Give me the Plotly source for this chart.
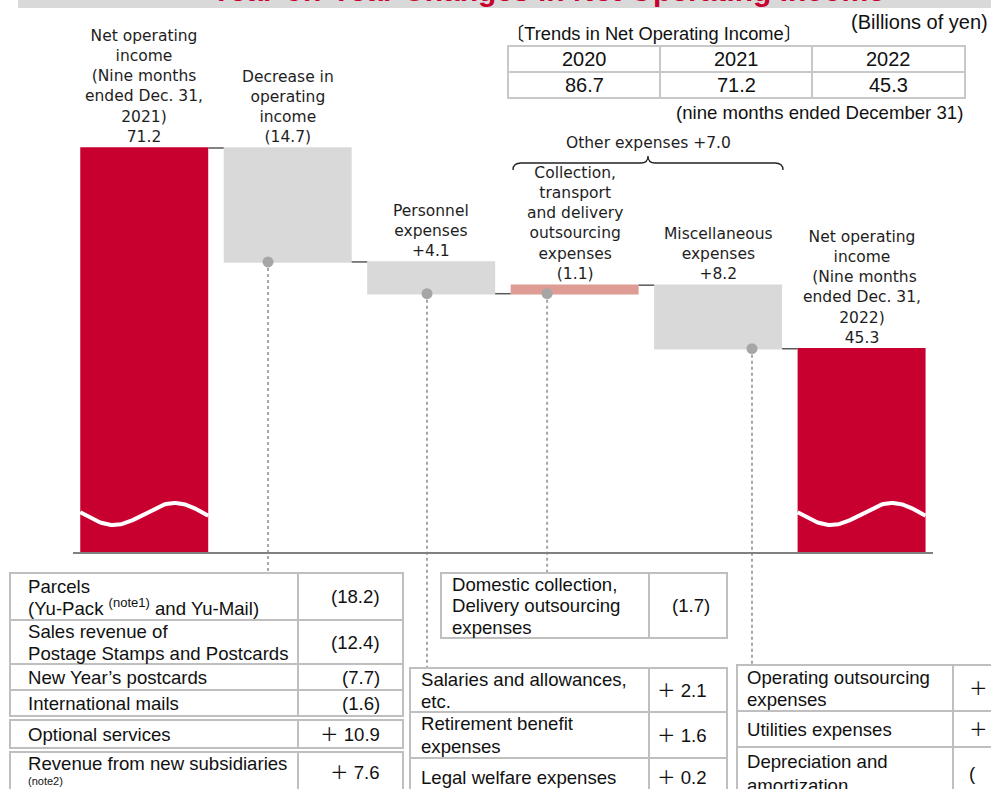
import numpy as np
import plotly.graph_objects as go

# ---------------- data ----------------
bar_names = ["Net operating income 2021", "Decrease in operating income", "Personnel expenses",
             "Collection, transport and delivery outsourcing expenses",
             "Miscellaneous expenses", "Net operating income 2022"]
bar_measures = ["absolute", "relative", "relative", "relative", "relative", "total"]
bar_values = [71.2, -14.7, -4.1, 1.1, -8.2, 0]
bar_labels = [
    "Net operating<br>income<br>(Nine months<br>ended Dec. 31,<br>2021)<br>71.2",
    "Decrease in<br>operating<br>income<br>(14.7)",
    "Personnel<br>expenses<br>+4.1",
    "Collection,<br>transport<br>and delivery<br>outsourcing<br>expenses<br>(1.1)",
    "Miscellaneous<br>expenses<br>+8.2",
    "Net operating<br>income<br>\u00a0(Nine months<br>ended Dec. 31,<br>2022)<br>45.3",
]
other_expenses_label = "Other expenses +7.0"

title_text = "Year-on-Year Changes in Net Operating Income"
unit_text = "(Billions of yen)"
trend_title = "〔Trends in Net Operating Income〕"
trend_years = ["2020", "2021", "2022"]
trend_values = ["86.7", "71.2", "45.3"]
trend_note = "(nine months ended December 31)"

revenue_items = [
    ["Parcels", "(Yu-Pack <sup>(note1)</sup> and Yu-Mail)"],
    ["Sales revenue of", "Postage Stamps and Postcards"],
    ["New Year\u2019s postcards"],
    ["International mails"],
    ["Optional services"],
    ["Revenue from new subsidiaries", "<span style='font-size:11px'>(note2)</span>"],
]
revenue_values = ["(18.2)", "(12.4)", "(7.7)", "(1.6)", "\uff0b 10.9", "\uff0b 7.6"]

collection_items = [["Domestic collection,", "Delivery outsourcing", "expenses"]]
collection_values = ["(1.7)"]

personnel_items = [["Salaries and allowances,", "etc."], ["Retirement benefit", "expenses"],
                   ["Legal welfare expenses"]]
personnel_values = ["\uff0b 2.1", "\uff0b 1.6", "\uff0b 0.2"]

misc_items = [["Operating outsourcing", "expenses"], ["Utilities expenses"],
              ["Depreciation and", "amortization"]]
misc_values = ["\uff0b", "\uff0b", "("]   # cut off at the right edge of the source image

# ---------------- geometry / style ----------------
W, H = 991, 789
RED, GREY, SALMON = "#C8002F", "#D9D9D9", "#DE9C94"
BORDER = "#BFBFBF"
DOT = "#A6A6A6"
LABEL_FONT = dict(family="DejaVu Sans", size=15.5, color="#1E1E1E")
TABLE_FONT = dict(family="Liberation Sans, Arial, Noto Sans CJK JP", size=18.6, color="#111111")


def fx(p):
    return p / W


def fy(p):
    return 1 - p / H


BASE_PX, TOP_PX, SCALE = 552, 148, 7.75
y_lo = bar_values[0] - (BASE_PX - TOP_PX) / SCALE
y_hi = bar_values[0] + TOP_PX / SCALE
y_dom0 = fy(BASE_PX)


def val_to_paper(v):
    return y_dom0 + (v - y_lo) / (y_hi - y_lo) * (1 - y_dom0)


SLOT, X_LEFT = 143.47, 72.5
x_dom = [fx(X_LEFT), fx(X_LEFT + 6 * SLOT)]
GAP = 0.108
HALF = (1 - GAP) / 2

# bar levels (bottom, top) from the data
levels = []
run = 0.0
for m, v in zip(bar_measures, bar_values):
    if m == "absolute":
        run = v
        levels.append((0.0, v))
    elif m == "relative":
        new = run + v
        levels.append((min(run, new), max(run, new)))
        run = new
    else:
        levels.append((0.0, run))

fig = go.Figure()
fig.add_trace(go.Waterfall(
    x=bar_names, y=bar_values, measure=bar_measures,
    decreasing=dict(marker=dict(color=GREY)),
    increasing=dict(marker=dict(color=SALMON)),
    totals=dict(marker=dict(color=RED)),
    connector=dict(line=dict(color="#595959", width=1.5)),
    textposition="none", hoverinfo="skip",
))

# wave "break" marks on the two total bars
wave_c = bar_values[0] - (514 - TOP_PX) / SCALE
wave_a = 11 / SCALE
wave_p = 122 / SLOT
for i in (0, 5):
    xs = np.linspace(i - HALF, i + HALF, 80)
    ys = wave_c + wave_a * np.sin(2 * np.pi * (xs - i) / wave_p)
    fig.add_trace(go.Scatter(x=xs, y=ys, xaxis="x2", yaxis="y", mode="lines",
                             line=dict(color="white", width=4), hoverinfo="skip"))

# dots at bar bottoms with dotted leader lines to the tables
link_bars = [1, 2, 3, 4]
link_offsets = [-0.137, -0.029, -0.192, 0.236]
link_table_top = [573, 668, 573, 665]
dot_x = [b + o for b, o in zip(link_bars, link_offsets)]
dot_y = [levels[b][0] for b in link_bars]
fig.add_trace(go.Scatter(x=dot_x, y=dot_y, xaxis="x2", yaxis="y", mode="markers",
                         marker=dict(color=DOT, size=11), cliponaxis=False, hoverinfo="skip"))

# header band title (clipped by its own tiny subplot)
fig.add_trace(go.Scatter(x=[(548 - 18) / (W - 18)], y=[(8 - (-6.5)) / 8], xaxis="x3", yaxis="y3",
                         mode="text", text=[title_text], cliponaxis=True,
                         textfont=dict(family="Liberation Sans, Arial", size=30, color=RED,
                                       weight="bold"),
                         hoverinfo="skip"))

shapes = []
annotations = []

# header grey band
shapes.append(dict(type="rect", xref="paper", yref="paper", x0=fx(18), x1=1.0, y0=fy(8), y1=1.0,
                   fillcolor=GREY, line=dict(width=0), layer="below"))

for x, y0, ytop in zip(dot_x, dot_y, link_table_top):
    shapes.append(dict(type="line", xref="x2", yref="paper", x0=x, x1=x,
                       y0=val_to_paper(y0), y1=fy(ytop),
                       line=dict(color=DOT, width=2, dash="dot"), layer="below"))

# bar labels
for name, lab, (lo, hi) in zip(bar_names, bar_labels, levels):
    annotations.append(dict(text=lab, x=name, y=hi, xref="x", yref="y", xanchor="center",
                            yanchor="bottom", showarrow=False, font=LABEL_FONT, yshift=0))

# brace over "other expenses"
bx0, bx1, bxm = 513, 783, 648
by_end, by_mid, by_peak = 170, 163, 156
path = (f"M {fx(bx0)},{fy(by_end)} Q {fx(bx0)},{fy(by_mid)} {fx(bx0 + 8)},{fy(by_mid)} "
        f"L {fx(bxm - 7)},{fy(by_mid)} Q {fx(bxm)},{fy(by_mid)} {fx(bxm)},{fy(by_peak)} "
        f"Q {fx(bxm)},{fy(by_mid)} {fx(bxm + 7)},{fy(by_mid)} "
        f"L {fx(bx1 - 8)},{fy(by_mid)} Q {fx(bx1)},{fy(by_mid)} {fx(bx1)},{fy(by_end)}")
shapes.append(dict(type="path", xref="paper", yref="paper", path=path,
                   line=dict(color="#222222", width=1.3)))
annotations.append(dict(text=other_expenses_label, x=fx(648), y=fy(143), xref="paper", yref="paper",
                        xanchor="center", yanchor="middle", showarrow=False, font=LABEL_FONT))


def add_rect(x0, y0, x1, y1, color=BORDER, width=2):
    shapes.append(dict(type="rect", xref="paper", yref="paper", x0=fx(x0), x1=fx(x1),
                       y0=fy(y1), y1=fy(y0), line=dict(color=color, width=width),
                       fillcolor="rgba(0,0,0,0)"))


def add_text(text, x, y, xanchor="left", font=TABLE_FONT, align="left"):
    annotations.append(dict(text=text, x=fx(x), y=fy(y), xref="paper", yref="paper",
                            xanchor=xanchor, yanchor="middle", align=align, showarrow=False, font=font))


LINE_STEP = 22


def add_table(x0, xdiv, x1, rows, items, vals, tx, vx, vanchor, steps=None):
    for k, ((t, b), lines, val) in enumerate(zip(rows, items, vals)):
        add_rect(x0, t, xdiv, b)
        add_rect(xdiv, t, x1, b)
        step = steps[k] if steps else LINE_STEP
        mid = (t + b) / 2
        first = mid - step * (len(lines) - 1) / 2
        for j, ln in enumerate(lines):
            add_text(ln, tx, first + j * step)
        add_text(val, vx, mid, xanchor=vanchor)


add_table(10, 298, 403, [(573, 620), (620, 664), (664, 690), (690, 716), (720, 748), (752, 792)],
          revenue_items, revenue_values, 26, 382, "right", steps=[20, 22, 22, 22, 22, 18])
add_table(441, 649, 727, [(573, 638)], collection_items, collection_values, 450, 712, "right",
          steps=[21.5])
add_table(410, 649, 727, [(668, 712), (712, 758), (758, 796)], personnel_items, personnel_values,
          419, 709, "right", steps=[22, 23, 22])
add_table(737, 953, 1010, [(665, 711), (711, 747), (747, 799)], misc_items, misc_values,
          745, 967, "left", steps=[22, 22, 24])

# trend table
tcols = [508, 660, 812, 965]
TREND_FONT = dict(family="Liberation Sans, Arial", size=20, color="#111111")
for j in range(3):
    add_rect(tcols[j], 46, tcols[j + 1], 72, color="#C8C8C8")
    add_rect(tcols[j], 72, tcols[j + 1], 98, color="#C8C8C8")
    cx = (tcols[j] + tcols[j + 1]) / 2
    add_text(trend_years[j], cx, 59.5, xanchor="center", font=TREND_FONT)
    add_text(trend_values[j], cx, 85.5, xanchor="center", font=TREND_FONT)
add_text(trend_title, 504, 34, font=dict(family="Liberation Sans, Arial, Noto Sans CJK JP", size=18.3,
                                         color="#111111"))
add_text(unit_text, 990, 22, xanchor="right", font=dict(family="Liberation Sans, Arial", size=20,
                                                         color="#111111"))
add_text(trend_note, 965, 112, xanchor="right", font=dict(family="Liberation Sans, Arial", size=18.6,
                                                           color="#111111"))

fig.update_layout(
    width=W, height=H, autosize=False,
    margin=dict(l=0, r=0, t=0, b=0),
    paper_bgcolor="white", plot_bgcolor="rgba(0,0,0,0)",
    showlegend=False, waterfallgap=GAP,
    xaxis=dict(domain=x_dom, showticklabels=False, ticks="", showgrid=False, zeroline=False,
               showline=True, linecolor="#808080", linewidth=2, fixedrange=True),
    yaxis=dict(domain=[y_dom0, 1], range=[y_lo, y_hi], showticklabels=False, showgrid=False,
               zeroline=False, showline=False, fixedrange=True),
    xaxis2=dict(domain=x_dom, range=[-0.5, 5.5], overlaying="x", visible=False, fixedrange=True),
    xaxis3=dict(domain=[fx(18), 1], range=[0, 1], visible=False, anchor="y3"),
    yaxis3=dict(domain=[fy(8), 1], range=[0, 1], visible=False, anchor="x3"),
    shapes=shapes, annotations=annotations,
)

fig.write_html("out.html")
